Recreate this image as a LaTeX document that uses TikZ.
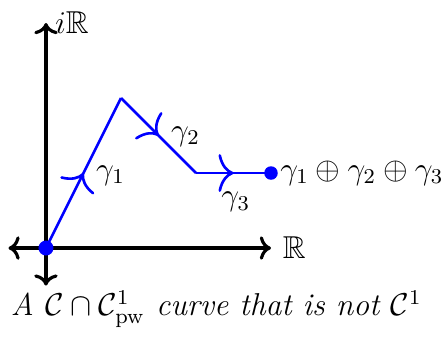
\documentclass[tikz,border=0pt]{standalone}
\usepackage{amsmath,amssymb}
\usepackage{tikz}
\usetikzlibrary{arrows.meta, positioning, calc, decorations.markings}

\begin{document}
\begin{tikzpicture}[
    axis/.style={very thick, <->},
    curve/.style={blue, line width=1pt},
    midarrow/.style={postaction={decorate}, decoration={markings,
      mark=at position 0.5 with {\arrow{To[scale length=1.5, scale width=1.8]}}}},
    every node/.style={font=\large}]
  \useasboundingbox (-0.613,-1.253) rectangle (5.36,3.307);
  \coordinate (O) at (0,0);
  \coordinate (xl) at (-0.5,0);
  \coordinate (xr) at (3,0);
  \coordinate (yb) at (0,-0.5);
  \coordinate (yt) at (0,3);
  \coordinate (P1) at (1,2);
  \coordinate (P2) at (2,1);
  \coordinate (P3) at (3,1);
  \draw[axis] (xl) -- (xr);
  \draw[axis] (yb) -- (yt);
  \node[right=1pt] (re) at (xr) {$\mathbb{R}$};
  \node[right=0pt] (im) at (yt) {$i\mathbb{R}$};
  \draw[curve, midarrow] (O) -- (P1);
  \draw[curve, midarrow] (P1) -- (P2);
  \draw[curve, midarrow] (P2) -- (P3);
  \fill[blue] (O) circle (0.1);
  \fill[blue] (P3) circle (0.09);
  \node (g1) at (0.86,0.97) {$\gamma_1$};
  \node (g2) at (1.86,1.49) {$\gamma_2$};
  \node (g3) at (2.53,0.62) {$\gamma_3$};
  \node[right=0pt] (sum) at (P3) {$\gamma_1\oplus\gamma_2\oplus\gamma_3$};
  \node[anchor=base] (cap) at (2.27,-0.9)
    {\textit{A $\mathcal{C}\cap\mathcal{C}^1_{\mathrm{pw}}$\ curve that is not $\mathcal{C}^1$}};
\end{tikzpicture}
\end{document}
